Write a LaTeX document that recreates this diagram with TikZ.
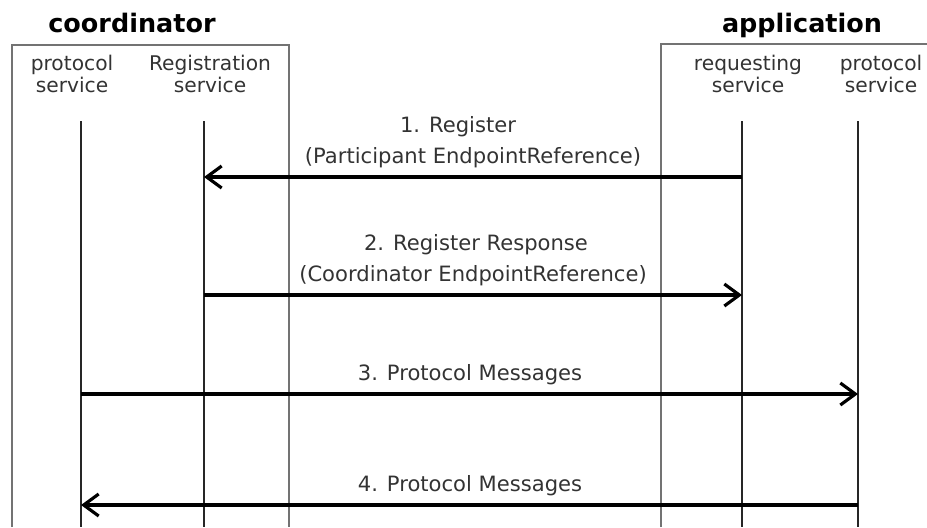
\documentclass[tikz,border=0pt]{standalone}
\usepackage{fontspec}
\setmainfont{DejaVu Sans}
\usetikzlibrary{arrows.meta,positioning}
\tikzset{
    box/.style={draw=black!55, line width=1.2pt},
    life/.style={draw=black!85, line width=1.1pt},
    msg/.style={line width=1.8pt, -{Straight Barb[length=3mm,width=4.4mm]}},
    head/.style={font=\fontsize{14.5}{16}\selectfont\bfseries, anchor=base, inner sep=0pt},
    lbl/.style={font=\fontsize{11.5}{12}\selectfont, align=center, text=black!80, inner sep=0pt},
    txt/.style={font=\fontsize{12}{14}\selectfont, anchor=base, text=black!80, inner sep=0pt}
}
\begin{document}
\begin{tikzpicture}[x=0.2mm,y=-0.2mm]
        \useasboundingbox (0,0) rectangle (927,527);
        \clip (0,0) rectangle (927,527);

        % the two parties
        \node[head] (coord) at (132,32) {coordinator};
        \node[head] (app) at (802,32) {application};
        \draw[box] (12,527)--(12,45)--(289,45)--(289,527);
        \draw[box] (661,527)--(661,44)--(927,44);

        % services and their lifelines
        \node[lbl] (ps1) at (72,74) {protocol\\service};
        \node[lbl] (rs) at (210,74) {Registration\\service};
        \node[lbl] (rq) at (748,74) {requesting\\service};
        \node[lbl] (ps2) at (881,74) {protocol\\service};
        \foreach \n/\x in {ps1/81,rs/204,rq/742,ps2/858}{
            \coordinate (\n-top) at (\x,121);
            \coordinate (\n-bot) at (\x,527);
            \draw[life] (\n-top) -- (\n-bot);
        }

        % messages
        \node[txt] (m1a) at (458,132) {1. Register};
        \node[txt] (m1b) at (473,163) {(Participant EndpointReference)};
        \draw[msg] (rq-top |- 0,177) -- (rs-top |- 0,177);

        \node[txt] (m2a) at (476,250) {2. Register Response};
        \node[txt] (m2b) at (473,281) {(Coordinator EndpointReference)};
        \draw[msg] (rs-top |- 0,295) -- (rq-top |- 0,295);

        \node[txt] (m3) at (470,380) {3. Protocol Messages};
        \draw[msg] (ps1-top |- 0,394) -- (ps2-top |- 0,394);

        \node[txt] (m4) at (470,491) {4. Protocol Messages};
        \draw[msg] (ps2-top |- 0,505) -- (ps1-top |- 0,505);
\end{tikzpicture}
\end{document}
